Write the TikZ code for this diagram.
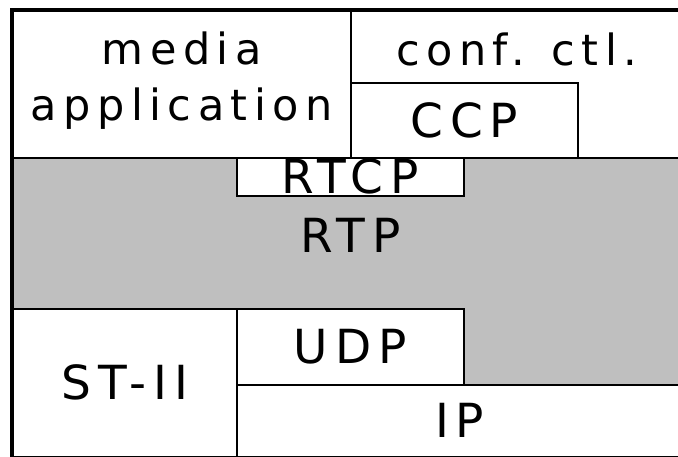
\documentclass[tikz,border=0pt]{standalone}
\usepackage{fontspec}
\newfontfamily\layerfont[LetterSpace=15]{DejaVu Sans}
\usetikzlibrary{positioning}

\begin{document}
\begin{tikzpicture}[x=1pt,y=-1pt,font=\layerfont\fontsize{47}{56}\selectfont]

\tikzset{layer/.style={draw,line width=1.5pt,fill=white,inner sep=0pt,anchor=north west,align=center},
graylayer/.style={layer,fill=black!25},
lowertext/.style={font=\layerfont\fontsize{43}{56}\selectfont},
frameline/.style={line width=4.5pt}}

\useasboundingbox (0,0) rectangle (678,456);

% Transport (grey)
\node[graylayer,minimum width=670pt,minimum height=227pt] (rtp) at (12,157) {};

% Application
\node[layer,minimum width=338pt,minimum height=147pt,label={[lowertext,align=center,inner sep=0pt,yshift=4pt]center:media\\application}] (media) at (12,10) {};
\node[layer,minimum width=332pt,minimum height=147pt,label={[lowertext,anchor=north,inner sep=0pt,yshift=-23pt]north:conf. ctl.}] (conf) at (350,10) {};
\node[layer,minimum width=227pt,minimum height=75pt] (ccp) at (350,82) {CCP};

% RTCP and RTP
\node[layer,minimum width=227pt,minimum height=38pt] (rtcp) at (236,157) {RTCP};
\node[below=22pt of rtcp,inner sep=0pt] (rtplabel) {RTP};

% Network
\node[layer,minimum width=224pt,minimum height=148pt] (st) at (12,308) {ST-II};
\node[layer,minimum width=227pt,minimum height=76pt] (udp) at (236,308) {UDP};
\node[layer,minimum width=446pt,minimum height=72pt] (ip) at (236,384) {IP};

% Frame
\draw[frameline] (st.south west) -- (media.north west) -- (conf.north east);

\end{tikzpicture}
\end{document}
